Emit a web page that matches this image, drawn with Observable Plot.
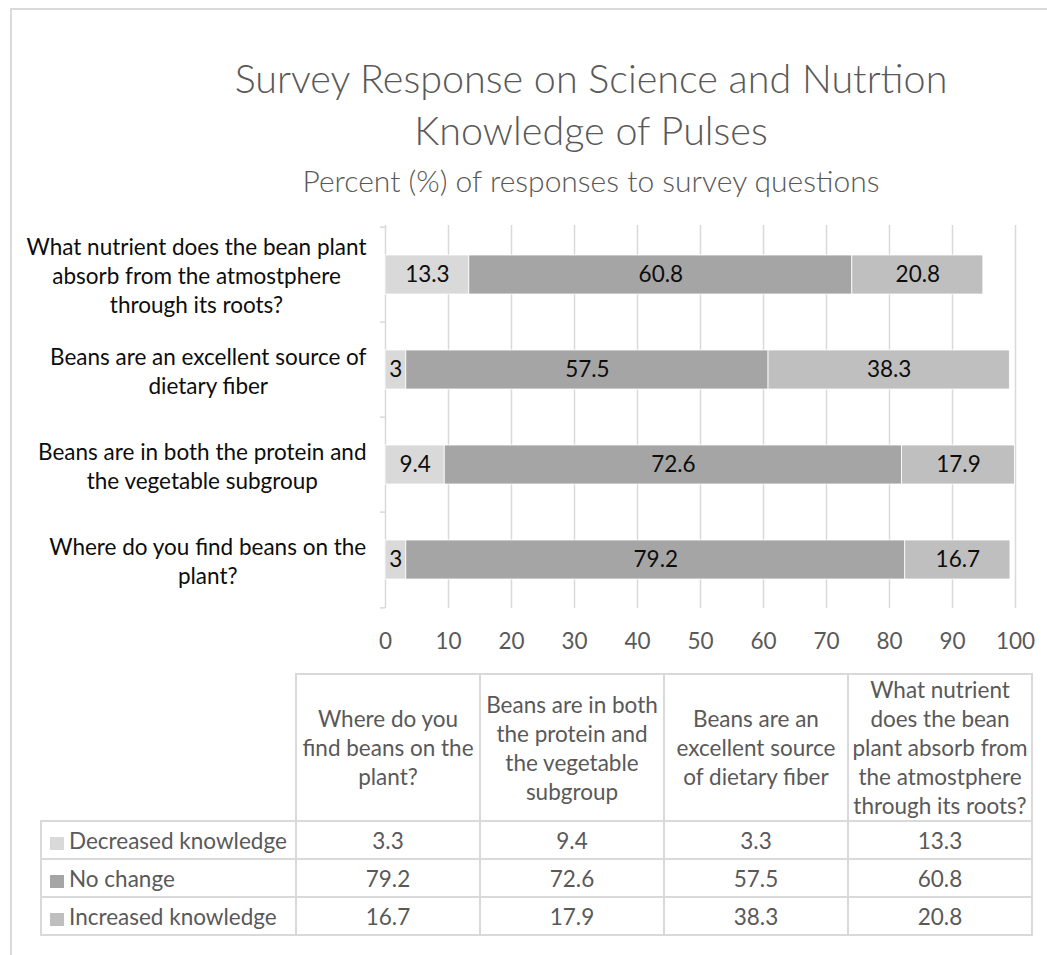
<!DOCTYPE html>
<html>
<head>
<meta charset="utf-8">
<script src="https://cdn.jsdelivr.net/npm/d3@7"></script>
<script src="https://cdn.jsdelivr.net/npm/@observablehq/plot@0.6"></script>
<style>
  html, body { margin: 0; padding: 0; background: #fff; }
  #wrap { position: relative; width: 1047px; height: 955px; overflow: hidden; font-family: Lato, "Open Sans", sans-serif; }
  #frame { position: absolute; left: 10px; top: 8px; width: 1200px; height: 1200px; border: 2px solid #dadada; box-sizing: border-box; }
  #title { position: absolute; left: 191px; width: 800px; top: 52px; text-align: center; font-size: 39.5px; font-weight: 300; line-height: 52px; color: #595959; }
  #subtitle { position: absolute; left: 191px; width: 800px; top: 162px; text-align: center; font-size: 30px; font-weight: 300; line-height: 36px; color: #595959; }
  #chart { position: absolute; left: 0; top: 200px; }
  #tbl { position: absolute; left: 40px; top: 673px; border-collapse: collapse; table-layout: fixed; font-size: 22.5px; color: #595959; }
  #tbl td { border: 2px solid #d9d9d9; text-align: center; vertical-align: middle; padding: 0; white-space: pre-line; line-height: 29px; }
  #tbl td.corner { border-top: none; border-left: none; }
  #tbl td.rowlab { text-align: left; padding-left: 8px; white-space: nowrap; }
  #tbl tr.head td { height: 144px; }
  #tbl tr.body td { height: 36px; }
  .sw { display: inline-block; width: 14px; height: 13px; margin-right: 5px; vertical-align: -1px; }
</style>
</head>
<body>
<div id="wrap">
  <div id="frame"></div>
  <div id="title"></div>
  <div id="subtitle"></div>
  <div id="chart"></div>
  <table id="tbl"></table>
</div>
<script>
// ---------- data ----------
const titleText = "Survey Response on Science and Nutrtion\nKnowledge of Pulses";
const subtitleText = "Percent (%) of responses to survey questions";

const categories = [
  "Where do you find beans on the plant?",
  "Beans are in both the protein and the vegetable subgroup",
  "Beans are an excellent source of dietary fiber",
  "What nutrient does the bean plant absorb from the atmostphere through its roots?"
];
const axisLabelLines = [
  "Where do you find beans on the\nplant?",
  "Beans are in both the protein and\nthe vegetable subgroup",
  "Beans are an excellent source of\ndietary fiber",
  "What nutrient does the bean plant\nabsorb from the atmostphere\nthrough its roots?"
];
const tableHeaderLines = [
  "Where do you\nfind beans on the\nplant?",
  "Beans are in both\nthe protein and\nthe vegetable\nsubgroup",
  "Beans are an\nexcellent source\nof dietary fiber",
  "What nutrient\ndoes the bean\nplant absorb from\nthe atmostphere\nthrough its roots?"
];
const seriesNames = ["Decreased knowledge", "No change", "Increased knowledge"];
const seriesColors = ["#d9d9d9", "#a5a5a5", "#bfbfbf"];

const decreased = [3.3, 9.4, 3.3, 13.3];
const noChange  = [79.2, 72.6, 57.5, 60.8];
const increased = [16.7, 17.9, 38.3, 20.8];

const decreasedBarLabels = ["3", "9.4", "3", "13.3"];
const noChangeBarLabels  = ["79.2", "72.6", "57.5", "60.8"];
const increasedBarLabels = ["16.7", "17.9", "38.3", "20.8"];

const xTicks = [0, 10, 20, 30, 40, 50, 60, 70, 80, 90, 100];

// ---------- build ----------
const FONT = "Lato, 'Open Sans', sans-serif";
const seriesValues = [decreased, noChange, increased];
const seriesLabels = [decreasedBarLabels, noChangeBarLabels, increasedBarLabels];
const tidy = [];
seriesNames.forEach((s, si) => {
  categories.forEach((c, ci) => {
    tidy.push({series: s, cat: c, value: seriesValues[si][ci], label: seriesLabels[si][ci]});
  });
});
const yDomain = categories.slice().reverse();

document.getElementById("title").style.whiteSpace = "pre-line";
document.getElementById("title").textContent = titleText;
document.getElementById("subtitle").textContent = subtitleText;

const W = 1047, H = 460, mL = 385, mR = 32, mT = 25, mB = 52;
const step = (H - mT - mB) / categories.length;
const catFontSize = 22.5;
const labelRight = 366;

const ctx = document.createElement("canvas").getContext("2d");
ctx.font = `${catFontSize}px Lato`;
const catMarks = categories.map((c, i) => {
  const lines = axisLabelLines[i].split("\n");
  const w = d3.max(lines, l => ctx.measureText(l).width);
  return Plot.text([c], {
    y: d => d, text: () => axisLabelLines[i], frameAnchor: "left",
    textAnchor: "middle", lineAnchor: "middle", lineHeight: 29 / catFontSize,
    dx: labelRight - w / 2 - mL, fill: "#0d0d0d", fontSize: catFontSize
  });
});

const chart = Plot.plot({
  width: W, height: H,
  marginLeft: mL, marginRight: mR, marginTop: mT, marginBottom: mB,
  style: {fontFamily: FONT, fontSize: "22.5px", background: "transparent", overflow: "visible"},
  x: {domain: [0, 100], label: null},
  y: {domain: yDomain, paddingInner: 0.59, paddingOuter: 0.295, label: null},
  color: {domain: seriesNames, range: seriesColors},
  marks: [
    Plot.gridX(xTicks, {stroke: "#d9d9d9", strokeOpacity: 1, strokeWidth: 1.5}),
    Plot.axisY(yDomain, {tickSize: 5, text: null, label: null, dy: -step / 2, stroke: "#d9d9d9", strokeWidth: 1.5, strokeOpacity: 1}),
    Plot.axisY([yDomain[yDomain.length - 1]], {tickSize: 5, text: null, label: null, dy: step / 2, stroke: "#d9d9d9", strokeWidth: 1.5, strokeOpacity: 1}),
    Plot.barX(tidy, Plot.stackX({x: "value", y: "cat", fill: "series", stroke: "white", strokeWidth: 0.8})),
    Plot.text(tidy, Plot.stackX({x: "value", y: "cat", z: "series", text: "label", fill: "#0d0d0d", fontSize: 22.5})),
    Plot.axisX(xTicks, {tickSize: 0, tickPadding: 25, fill: "#595959", fontSize: 22.5, label: null, tickFormat: d => String(d)}),
    ...catMarks
  ]
});
document.getElementById("chart").appendChild(chart);

// ---------- data table ----------
const tbl = document.getElementById("tbl");
const colgroup = document.createElement("colgroup");
[255, 184, 184, 184, 184].forEach(w => { const col = document.createElement("col"); col.style.width = w + "px"; colgroup.appendChild(col); });
tbl.appendChild(colgroup);
const head = document.createElement("tr");
head.className = "head";
const corner = document.createElement("td"); corner.className = "corner"; head.appendChild(corner);
tableHeaderLines.forEach(h => { const td = document.createElement("td"); td.textContent = h; head.appendChild(td); });
tbl.appendChild(head);
seriesNames.forEach((s, si) => {
  const tr = document.createElement("tr"); tr.className = "body";
  const lab = document.createElement("td"); lab.className = "rowlab";
  const sw = document.createElement("span"); sw.className = "sw"; sw.style.background = seriesColors[si];
  lab.appendChild(sw); lab.appendChild(document.createTextNode(s));
  tr.appendChild(lab);
  seriesValues[si].forEach(v => { const td = document.createElement("td"); td.textContent = v.toFixed(1); tr.appendChild(td); });
  tbl.appendChild(tr);
});
</script>
</body>
</html>
